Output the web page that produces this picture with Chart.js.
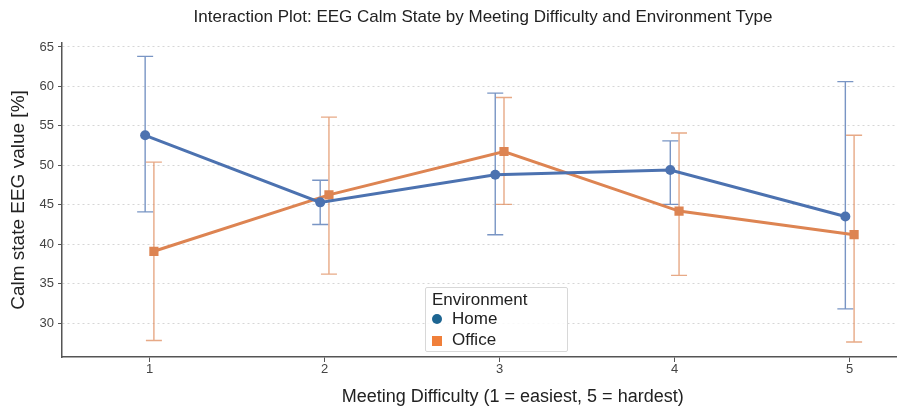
<!DOCTYPE html>
<html>
<head>
<meta charset="utf-8">
<script src="https://cdn.jsdelivr.net/npm/chart.js@4.4.1/dist/chart.umd.min.js"></script>
<style>
  html, body { margin: 0; padding: 0; background: #fff; overflow: hidden; }
  #wrap { position: relative; width: 970px; height: 408px; }
  #legend {
    position: absolute; left: 425px; top: 287px; width: 141px; height: 63px;
    border: 1px solid #d8d8d8; border-radius: 2px; background: rgba(255,255,255,0.85);
    font-family: "Liberation Sans", Arial, sans-serif; color: #222;
  }
  #legend .ttl { position: absolute; left: 6px; top: 2px; font-size: 17px; }
  #legend .item { position: absolute; left: 26px; font-size: 17px; }
  #legend .mk { position: absolute; left: 6px; }
</style>
</head>
<body>
<div id="wrap">
  <canvas id="grafico" width="970" height="408"></canvas>
  <div id="legend">
    <div class="ttl">Environment</div>
    <div class="mk" style="top:26px;width:10px;height:10px;border-radius:50%;background:#1d6592;"></div>
    <div class="item" style="top:21px;">Home</div>
    <div class="mk" style="top:48px;width:10px;height:10px;background:#f07f3a;"></div>
    <div class="item" style="top:42px;">Office</div>
  </div>
</div>
<script>
// datos
var dificultad = [1, 2, 3, 4, 5];
var homeMedia = [53.8, 45.3, 48.8, 49.4, 43.5];
var homeBajo  = [44.1, 42.5, 41.2, 45.05, 31.8];
var homeAlto  = [63.8, 48.1, 59.15, 53.1, 60.6];
var officeMedia = [39.1, 46.25, 51.75, 44.2, 41.2];
var officeBajo  = [27.8, 36.2, 45.05, 36.05, 27.6];
var officeAlto  = [50.4, 56.1, 58.6, 54.1, 53.8];
var ticksY = [30, 35, 40, 45, 50, 55, 60, 65];

var FUENTE = '"Liberation Sans", Arial, sans-serif';
var AZUL = '#4C72B0', NARANJA = '#DD8452';

function puntos(medias, desplaz) {
  return dificultad.map(function (d, i) { return { x: d + desplaz, y: medias[i] }; });
}

// barras de error dibujadas con las escalas del grafico
var barrasError = {
  id: 'barrasError',
  beforeDatasetsDraw: function (chart) {
    var ctx = chart.ctx;
    var sx = chart.scales.x, sy = chart.scales.y;
    chart.data.datasets.forEach(function (ds) {
      ctx.save();
      ctx.strokeStyle = ds.errColor;
      ctx.lineWidth = 1.4;
      ds.data.forEach(function (p, i) {
        var x = sx.getPixelForValue(p.x);
        var y1 = sy.getPixelForValue(ds.bajo[i]);
        var y2 = sy.getPixelForValue(ds.alto[i]);
        ctx.beginPath();
        ctx.moveTo(x, y1); ctx.lineTo(x, y2);
        ctx.moveTo(x - 8, y1); ctx.lineTo(x + 8, y1);
        ctx.moveTo(x - 8, y2); ctx.lineTo(x + 8, y2);
        ctx.stroke();
      });
      ctx.restore();
    });
  }
};

const ctx = document.getElementById('grafico').getContext('2d');
window.grafica = new Chart(ctx, {
  type: 'line',
  data: {
    datasets: [{
      label: 'Home',
      data: puntos(homeMedia, -0.025),
      bajo: homeBajo, alto: homeAlto,
      errColor: 'rgba(76,114,176,0.75)',
      borderColor: AZUL, backgroundColor: AZUL,
      borderWidth: 3, pointStyle: 'circle', pointRadius: 5, pointHoverRadius: 5,
      pointBorderWidth: 0
    }, {
      label: 'Office',
      data: puntos(officeMedia, 0.025),
      bajo: officeBajo, alto: officeAlto,
      errColor: 'rgba(221,132,82,0.7)',
      borderColor: NARANJA, backgroundColor: NARANJA,
      borderWidth: 3, pointStyle: 'rect', pointRadius: 6.5, pointHoverRadius: 6.5,
      pointBorderWidth: 0
    }]
  },
  options: {
    responsive: false,
    animation: false,
    devicePixelRatio: 1,
    layout: { padding: { left: 0, right: 4, top: 0, bottom: 0 } },
    plugins: {
      legend: { display: false },
      tooltip: { enabled: false },
      title: {
        display: true,
        text: 'Interaction Plot: EEG Calm State by Meeting Difficulty and Environment Type',
        color: '#222',
        font: { family: FUENTE, size: 17, weight: 'normal' },
        padding: { top: 7, bottom: 15.6 }
      }
    },
    scales: {
      x: {
        type: 'linear', min: 0.5, max: 5.65,
        afterBuildTicks: function (s) { s.ticks = dificultad.map(function (v) { return { value: v }; }); },
        afterFit: function (s) { s.height = 51; },
        grid: { drawOnChartArea: false, drawTicks: true, tickLength: 5, tickColor: '#555', tickWidth: 1 },
        border: { display: true, color: '#555', width: 1.5 },
        ticks: { color: '#444', font: { family: FUENTE, size: 13 }, padding: 0, maxRotation: 0 },
        title: {
          display: true, text: 'Meeting Difficulty (1 = easiest, 5 = hardest)',
          color: '#222', font: { family: FUENTE, size: 18 }, padding: { top: 0, bottom: 0 }
        }
      },
      y: {
        min: 25.7, max: 65.5,
        afterBuildTicks: function (s) { s.ticks = ticksY.map(function (v) { return { value: v }; }); },
        afterFit: function (s) { s.width = 62; },
        grid: { color: '#d6d6d6', lineWidth: 1, drawTicks: true, tickLength: 4,
                tickColor: '#555', tickBorderDash: [] },
        border: { display: true, color: '#555', width: 1.5, dash: [2, 3] },
        ticks: { color: '#444', font: { family: FUENTE, size: 13 }, padding: 4 },
        title: {
          display: true, text: 'Calm state EEG value [%]',
          color: '#222', font: { family: FUENTE, size: 19 }, padding: { top: 7, bottom: 0 }
        }
      }
    }
  },
  plugins: [barrasError]
});
</script>
</body>
</html>
